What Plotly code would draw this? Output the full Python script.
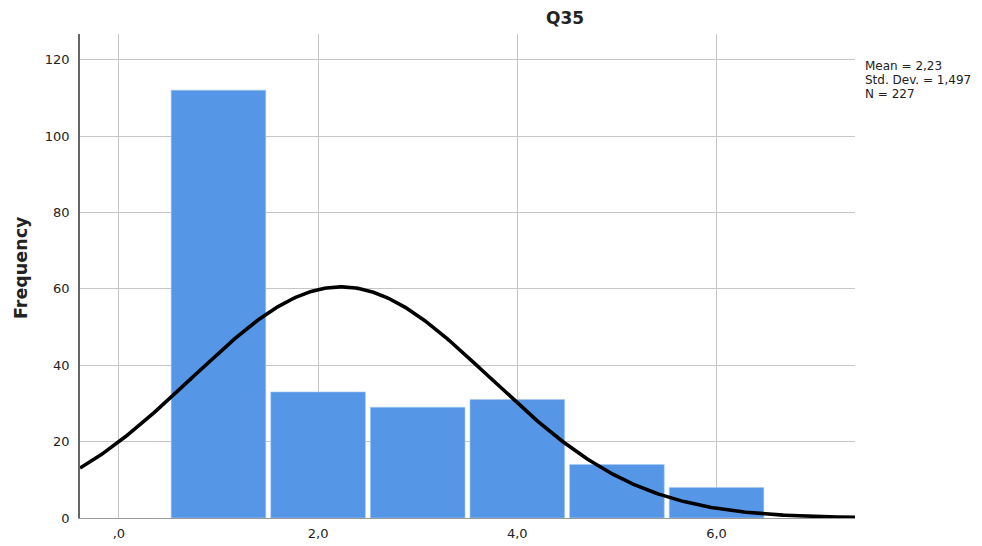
import numpy as np
import plotly.graph_objects as go

# Histogram of Q35 responses
bin_centers = [1, 2, 3, 4, 5, 6]
frequencies = [112, 33, 29, 31, 14, 8]

# Summary statistics shown beside the chart
mean_value = 2.23
std_dev = 1.497
n_total = 227
bin_width = 1.0

x_ticks = [0, 2, 4, 6]
x_tick_labels = [",0", "2,0", "4,0", "6,0"]
y_ticks = [0, 20, 40, 60, 80, 100, 120]

x_range = [-0.39, 7.39]
y_range = [0, 126.7]

# Fitted normal curve scaled to counts
xs = np.linspace(x_range[0], x_range[1], 400)
ys = n_total * bin_width * np.exp(-0.5 * ((xs - mean_value) / std_dev) ** 2) / (std_dev * np.sqrt(2 * np.pi))

fig = go.Figure()
fig.add_trace(go.Bar(
    x=bin_centers, y=frequencies, width=0.95,
    marker=dict(color="#5596e6", line=dict(color="#a9c9f2", width=0.6)),
    hoverinfo="x+y",
))
fig.add_trace(go.Scatter(
    x=xs, y=ys, mode="lines",
    line=dict(color="black", width=3.6),
    hoverinfo="skip",
))

font_family = "DejaVu Sans, Verdana, sans-serif"
text_color = "#222222"

def decimal_comma(value, digits):
    return f"{value:.{digits}f}".replace(".", ",")

stats_lines = [
    f"Mean = {decimal_comma(mean_value, 2)}",
    f"Std. Dev. = {decimal_comma(std_dev, 3)}",
    f"N = {n_total}",
]

plot_top, plot_bottom = 34, 518
plot_h = plot_bottom - plot_top

annotations = [
    dict(text="<b>Q35</b>", xref="paper", yref="paper", x=(565 - 80) / 775, y=1,
         yshift=16, xanchor="center", yanchor="middle", showarrow=False,
         font=dict(size=17, color=text_color)),
    dict(text="<b>Frequency</b>", xref="paper", yref="paper", x=0, xshift=-59,
         y=(plot_bottom - 268) / plot_h, textangle=-90, xanchor="center", yanchor="middle",
         showarrow=False, font=dict(size=17.5, color=text_color)),
]
for i, line in enumerate(stats_lines):
    annotations.append(dict(
        text=line, xref="paper", yref="paper", x=1, xshift=8,
        y=(plot_bottom - (66 + 14 * i)) / plot_h,
        xanchor="left", yanchor="middle", align="left", showarrow=False,
        font=dict(size=12, color=text_color),
    ))

fig.update_layout(
    width=982, height=546,
    margin=dict(l=80, r=127, t=plot_top, b=546 - plot_bottom),
    paper_bgcolor="white", plot_bgcolor="white",
    showlegend=False,
    font=dict(family=font_family, size=13, color=text_color),
    xaxis=dict(
        range=x_range, tickvals=x_ticks, ticktext=x_tick_labels,
        automargin=False,
        showgrid=True, gridcolor="#c6c6c6", gridwidth=1,
        zeroline=False, showline=True, linecolor="#9a9a9a", linewidth=1,
        ticks="", ticklabelstandoff=3, tickfont=dict(size=13, color=text_color),
    ),
    yaxis=dict(
        range=y_range, tickvals=y_ticks,
        automargin=False,
        showgrid=True, gridcolor="#c6c6c6", gridwidth=1,
        zeroline=False, showline=True, linecolor="#666666", linewidth=1.5,
        ticks="", ticklabelstandoff=6, tickfont=dict(size=13, color=text_color),
    ),
    annotations=annotations,
)

fig.write_html("out.html")
